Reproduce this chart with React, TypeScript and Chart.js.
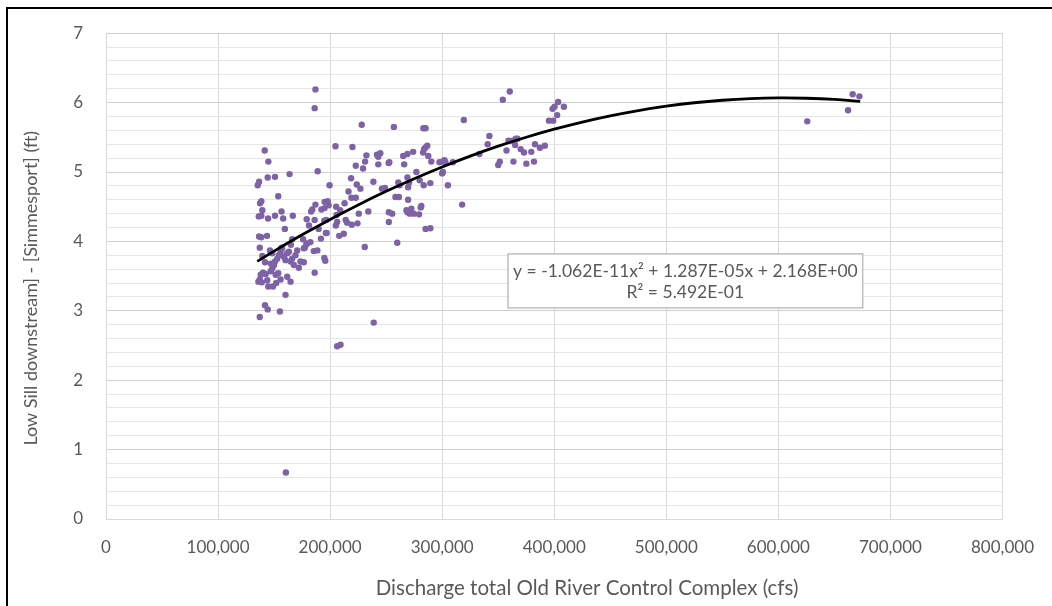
import React, { useEffect, useRef } from "react";
import { Chart, registerables } from "chart.js";

Chart.register(...registerables);

// Observed points: discharge (cfs) and stage difference (ft)
const dischargeCfs = [
  186900, 186200, 228200, 256900, 141600, 144900, 204800, 219900, 232400, 241800,
  244800, 243000, 231200, 222900, 243000, 229400, 252200, 188900, 163800, 144300,
  150800, 136600, 135400, 199500, 218700, 223800, 227000, 238600, 246200, 258300,
  216400, 219000, 222900, 153700, 138600, 137500, 139500, 136300, 138600, 156600,
  150800, 144600, 158100, 166700, 186900, 184100, 183000, 195100, 197800, 198700,
  195100, 192200, 205400, 212900, 209000, 205700, 179100, 186200, 194800, 196600,
  181200, 206300, 205100, 213900, 215200, 219300, 224400, 225600, 234100, 189800,
  196200, 208100, 212200, 230900, 259900, 136600, 138600, 143700, 159600, 137200,
  146300, 156700, 166100, 165000, 175900, 178800, 182400, 176500, 185400, 188600,
  191800, 196900, 194800, 195700, 186200, 148400, 147000, 149300,
  160200, 141900, 144300, 155200, 137200, 238900, 206300, 209300, 148400, 149900,
  150800, 152800, 154300, 155800, 157200, 158800, 160200, 161700, 163200, 164700,
  166100, 167600, 169100, 170600, 172100, 173500, 176500, 177400, 179400, 139500,
  141900, 137200, 136000, 139000, 138100, 140100, 142500, 143900, 144800, 149000,
  147000, 151400, 153700, 155800, 151900, 161700, 164700, 160500,
  354100, 360300, 319300, 283200, 285200, 395300, 399100, 402600, 398500, 400300,
  403500, 408600, 252800, 265200, 269000, 274100, 283000, 286700, 284900, 283800,
  287600, 290300, 266100, 277000, 279900, 283500, 289400, 269000, 270500, 269600,
  260800, 262000, 261400, 269600, 248900, 272500, 271100, 269000, 268100, 274700,
  279400, 281400, 280800, 252400, 255400, 252400, 285200, 289400, 297600, 300600,
  302000, 302900, 300000, 300600, 309500, 305100, 317800, 333200, 340600, 342100,
  350000, 351400, 357400, 359200, 362700, 365700, 367200, 365100, 370000, 373000,
  375100, 381900, 379500, 382800, 387200, 391600, 363600,
  625800, 662200, 666300, 672300,
];

const stageDiffFt = [
  6.19, 5.92, 5.68, 5.65, 5.31, 5.15, 5.37, 5.36, 5.24, 5.25,
  5.27, 5.22, 5.15, 5.09, 5.11, 5.05, 5.13, 5.01, 4.97, 4.92,
  4.93, 4.86, 4.81, 4.81, 4.91, 4.82, 4.76, 4.86, 4.76, 4.64,
  4.72, 4.63, 4.63, 4.65, 4.58, 4.55, 4.45, 4.36, 4.37, 4.43,
  4.37, 4.33, 4.33, 4.37, 4.53, 4.46, 4.43, 4.57, 4.58, 4.52,
  4.48, 4.46, 4.50, 4.55, 4.45, 4.38, 4.32, 4.31, 4.30, 4.31,
  4.23, 4.28, 4.23, 4.31, 4.27, 4.24, 4.26, 4.40, 4.43, 4.18,
  4.12, 4.08, 4.11, 3.92, 3.98, 4.07, 4.06, 4.08, 4.18, 3.91,
  3.87, 3.91, 4.03, 3.95, 4.03, 3.96, 3.99, 3.90, 3.86, 3.87,
  4.04, 4.12, 3.76, 3.72, 3.55, 3.61, 3.68, 3.68,
  3.23, 3.08, 3.02, 2.99, 2.91, 2.83, 2.49, 2.51, 3.83, 3.66,
  3.71, 3.75, 3.80, 3.85, 3.90, 3.78, 3.73, 3.83, 3.85, 3.71,
  3.75, 3.66, 3.80, 3.87, 3.62, 3.71, 3.70, 3.91, 3.97, 3.79,
  3.70, 3.45, 3.42, 3.41, 3.52, 3.55, 3.53, 3.44, 3.35, 3.35,
  3.57, 3.52, 3.54, 3.45, 3.40, 3.49, 3.42, 0.67,
  6.04, 6.16, 5.75, 5.63, 5.63, 5.74, 5.74, 5.82, 5.91, 5.94,
  6.01, 5.94, 5.14, 5.23, 5.26, 5.29, 5.28, 5.38, 5.35, 5.33,
  5.23, 5.15, 5.11, 5.00, 4.88, 4.81, 4.84, 4.92, 4.85, 4.78,
  4.85, 4.81, 4.64, 4.60, 4.77, 4.47, 4.40, 4.42, 4.45, 4.40,
  4.39, 4.51, 4.49, 4.42, 4.40, 4.28, 4.18, 4.19, 5.14, 5.15,
  5.17, 5.14, 4.98, 5.00, 5.14, 4.81, 4.53, 5.26, 5.40, 5.52,
  5.10, 5.15, 5.31, 5.45, 5.45, 5.48, 5.48, 5.39, 5.33, 5.28,
  5.12, 5.15, 5.29, 5.40, 5.35, 5.38, 5.15,
  5.73, 5.89, 6.12, 6.09,
];

// Polynomial trendline as drawn on the chart
const trendDischarge = [
  135000, 150000, 175000, 200000, 225000, 250000, 275000, 300000, 325000, 350000,
  375000, 400000, 425000, 450000, 475000, 500000, 525000, 550000, 575000, 600000,
  625000, 650000, 673000,
];
const trendStage = [
  3.712, 3.860, 4.095, 4.317, 4.526, 4.722, 4.904, 5.073, 5.229, 5.372,
  5.501, 5.617, 5.720, 5.809, 5.885, 5.948, 5.998, 6.034, 6.057, 6.067,
  6.063, 6.047, 6.019,
];

const xAxisTitle = "Discharge total Old River Control Complex (cfs)";
const yAxisTitle = "Low Sill downstream] - [Simmesport] (ft)";
const equationText = "y = -1.062E-11x\u00B2 + 1.287E-05x + 2.168E+00";
const rSquaredText = "R\u00B2 = 5.492E-01";

// Equation box anchor (data coordinates of box centre-x and top)
const eqBoxCenterX = 517000;
const eqBoxTopY = 3.82;

const FONT = "Lato, 'Open Sans', sans-serif";
const TEXT_COLOR = "#595959";

const overlayPlugin = {
  id: "overlayText",
  afterDraw(chart: any) {
    const { ctx, chartArea, scales } = chart;
    ctx.save();
    ctx.fillStyle = TEXT_COLOR;
    ctx.textAlign = "center";
    ctx.textBaseline = "middle";
    // X axis title
    ctx.font = `20.5px ${FONT}`;
    ctx.fillText(xAxisTitle, chartArea.left + chartArea.width * 0.5366, chartArea.bottom + 69);
    // Y axis title
    ctx.font = `18px ${FONT}`;
    ctx.save();
    ctx.translate(31, chartArea.top + chartArea.height * 0.525);
    ctx.rotate(-Math.PI / 2);
    ctx.fillText(yAxisTitle, 0, 0);
    ctx.restore();

    // Equation box
    ctx.font = `17.5px ${FONT}`;
    const w = Math.max(ctx.measureText(equationText).width, ctx.measureText(rSquaredText).width) + 10;
    const h = 54;
    const cx = scales.x.getPixelForValue(eqBoxCenterX);
    const top = scales.y.getPixelForValue(eqBoxTopY);
    ctx.fillStyle = "#ffffff";
    ctx.fillRect(cx - w / 2, top, w, h);
    ctx.strokeStyle = "#bfbfbf";
    ctx.lineWidth = 1.5;
    ctx.strokeRect(cx - w / 2, top, w, h);
    ctx.fillStyle = TEXT_COLOR;
    ctx.fillText(equationText, cx, top + 17);
    ctx.fillText(rSquaredText, cx, top + 38);
    ctx.restore();
  },
};

export default function App() {
  const ref = useRef<HTMLCanvasElement>(null);

  useEffect(() => {
    const points = dischargeCfs.map((x, i) => ({ x, y: stageDiffFt[i] }));
    const trend = trendDischarge.map((x, i) => ({ x, y: trendStage[i] }));
    const isInt = (v: number) => Math.abs(v - Math.round(v)) < 1e-6;

    const chart = new Chart(ref.current as HTMLCanvasElement, {
      type: "scatter",
      data: {
        datasets: [
          {
            type: "line",
            label: "Trend",
            data: trend,
            borderColor: "#000000",
            borderWidth: 2.8,
            pointRadius: 0,
            tension: 0.4,
            fill: false,
            order: 0,
          } as any,
          {
            label: "Points",
            data: points,
            backgroundColor: "#7e62a6",
            borderWidth: 0,
            pointRadius: 3.2,
            order: 1,
          },
        ],
      },
      options: {
        responsive: false,
        animation: false,
        devicePixelRatio: 1,
        layout: { padding: { top: 28, right: 44, left: 0, bottom: 0 } },
        plugins: {
          legend: { display: false },
          tooltip: { enabled: false },
        },
        scales: {
          x: {
            type: "linear",
            min: 0,
            max: 800000,
            afterFit: (s: any) => {
              s.height = 87;
            },
            ticks: {
              stepSize: 100000,
              padding: 18,
              color: TEXT_COLOR,
              font: { family: FONT, size: 17 },
              callback: (v: any) => Number(v).toLocaleString("en-US"),
            },
            grid: { color: "#d9d9d9", drawTicks: false, lineWidth: 1 },
            border: { color: "#d9d9d9" },
          },
          y: {
            type: "linear",
            min: 0,
            max: 7,
            afterFit: (s: any) => {
              s.width = 106;
            },
            ticks: {
              stepSize: 0.2,
              autoSkip: false,
              padding: 23,
              color: TEXT_COLOR,
              font: { family: FONT, size: 17 },
              callback: (v: any) => (isInt(Number(v)) ? String(Math.round(Number(v))) : ""),
            },
            grid: {
              drawTicks: false,
              lineWidth: 1,
              color: (c: any) => (c.tick && isInt(c.tick.value) ? "#d0d0d0" : "#e6e6e6"),
            },
            border: { color: "#d9d9d9" },
          },
        },
      },
      plugins: [overlayPlugin],
    });
    return () => chart.destroy();
  }, []);

  return (
    <div
      style={{
        position: "fixed",
        left: 0,
        top: 0,
        width: 1052,
        height: 606,
        overflow: "hidden",
        background: "#ffffff",
      }}
    >
      <canvas
        ref={ref}
        width={1052}
        height={606}
        style={{ position: "absolute", left: 0, top: 0, width: 1052, height: 606 }}
      />
      <div
        style={{
          position: "absolute",
          left: 6,
          top: 7,
          width: 1200,
          height: 800,
          borderLeft: "2px solid #000",
          borderTop: "2px solid #000",
          pointerEvents: "none",
        }}
      />
    </div>
  );
}
